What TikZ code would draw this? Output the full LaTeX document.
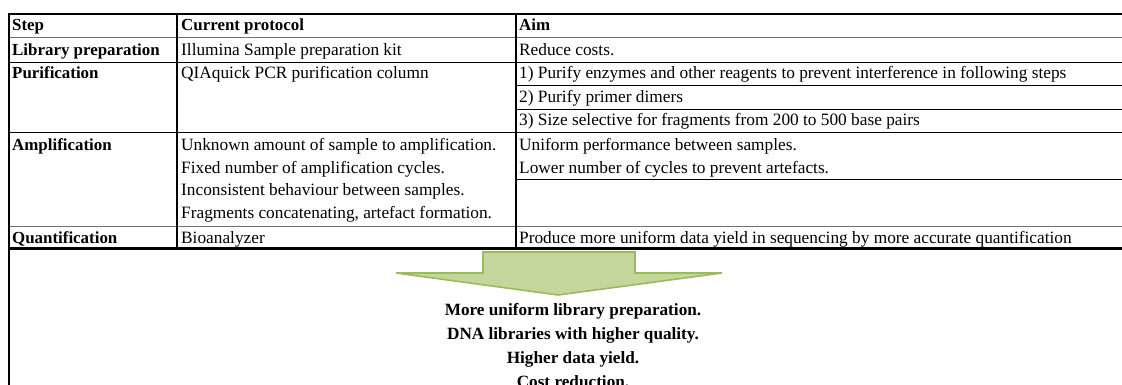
\documentclass[tikz,border=0pt]{standalone}
\usepackage{fontspec}
\setmainfont{Liberation Serif}
\definecolor{arrowfill}{HTML}{C3D69B}
\definecolor{arrowline}{HTML}{9BBB59}
\tikzset{
  cell/.style={anchor=base west, inner sep=0pt, font=\fontsize{17.3}{20}\selectfont},
  hcell/.style={anchor=base west, inner sep=0pt, font=\fontsize{16.9}{20}\selectfont\bfseries},
  result/.style={anchor=base, inner sep=0pt, font=\fontsize{17.2}{20}\selectfont\bfseries},
  thick rule/.style={line width=2.2pt, black},
  thin rule/.style={line width=0.9pt, black},
  grey rule/.style={line width=1.2pt, black!55},
}
\begin{document}
\begin{tikzpicture}[x=1pt,y=-1pt]
\clip (0,0) rectangle (1122,385);
\fill[white] (0,0) rectangle (1122,385);
% grid
\draw[grey rule] (9,37.5) -- (1122,37.5);
\draw[thin rule] (9,62) -- (1122,62);
\draw[thin rule] (516,85.5) -- (1122,85.5);
\draw[thin rule] (516,109) -- (1122,109);
\draw[thin rule] (9,132.5) -- (1122,132.5);
\draw[thin rule] (516,179) -- (1122,179);
\draw[grey rule] (9,226.5) -- (1122,226.5);
\draw[thick rule] (9,14) -- (1122,14);
\draw[thick rule] (9,248.5) -- (1122,248.5);
\draw[thick rule] (9,13) -- (9,386);
\draw[thick rule] (177,14) -- (177,248.5);
\draw[thick rule] (516,14) -- (516,248.5);
% header
\node[hcell] (hstep) at (12,30.5) {Step};
\node[hcell] (hprot) at (181,30.5) {Current protocol};
\node[hcell] (haim)  at (519,30.5) {Aim};
% library preparation
\node[hcell] (s1) at (12,55.5) {Library preparation};
\node[cell] (p1) at (181,55.5) {Illumina Sample preparation kit};
\node[cell] (a1) at (519,55.5) {Reduce costs.};
% purification
\node[hcell] (s2) at (12,79) {Purification};
\node[cell] (p2) at (181,79) {QIAquick PCR purification column};
\node[cell] (a2a) at (519,79) {1) Purify enzymes and other reagents to prevent interference in following steps};
\node[cell] (a2b) at (519,102.5) {2) Purify primer dimers};
\node[cell] (a2c) at (519,125.5) {3) Size selective for fragments from 200 to 500 base pairs};
% amplification
\node[hcell] (s3) at (12,150.5) {Amplification};
\node[cell] (p3a) at (181,150.5) {Unknown amount of sample to amplification.};
\node[cell] (p3b) at (181,173) {Fixed number of amplification cycles.};
\node[cell] (p3c) at (181,195.5) {Inconsistent behaviour between samples.};
\node[cell] (p3d) at (181,218) {Fragments concatenating, artefact formation.};
\node[cell] (a3a) at (519,150.5) {Uniform performance between samples.};
\node[cell] (a3b) at (519,173) {Lower number of cycles to prevent artefacts.};
% quantification
\node[hcell] (s4) at (12,243.5) {Quantification};
\node[cell] (p4) at (181,243.5) {Bioanalyzer};
\node[cell] (a4) at (519,243.5) {Produce more uniform data yield in sequencing by more accurate quantification};
% arrow
\draw[fill=arrowfill, draw=arrowline, line width=1.6pt, line join=miter]
  (483,252) -- (635,252) -- (635,273) -- (722,273) -- (558,295) -- (396,273) -- (483,273) -- cycle;
% results
\node[result] (r1) at (573,315) {More uniform library preparation.};
\node[result] (r2) at (573,339) {DNA libraries with higher quality.};
\node[result] (r3) at (573,363) {Higher data yield.};
\node[result] (r4) at (573,387) {Cost reduction.};
\end{tikzpicture}
\end{document}
